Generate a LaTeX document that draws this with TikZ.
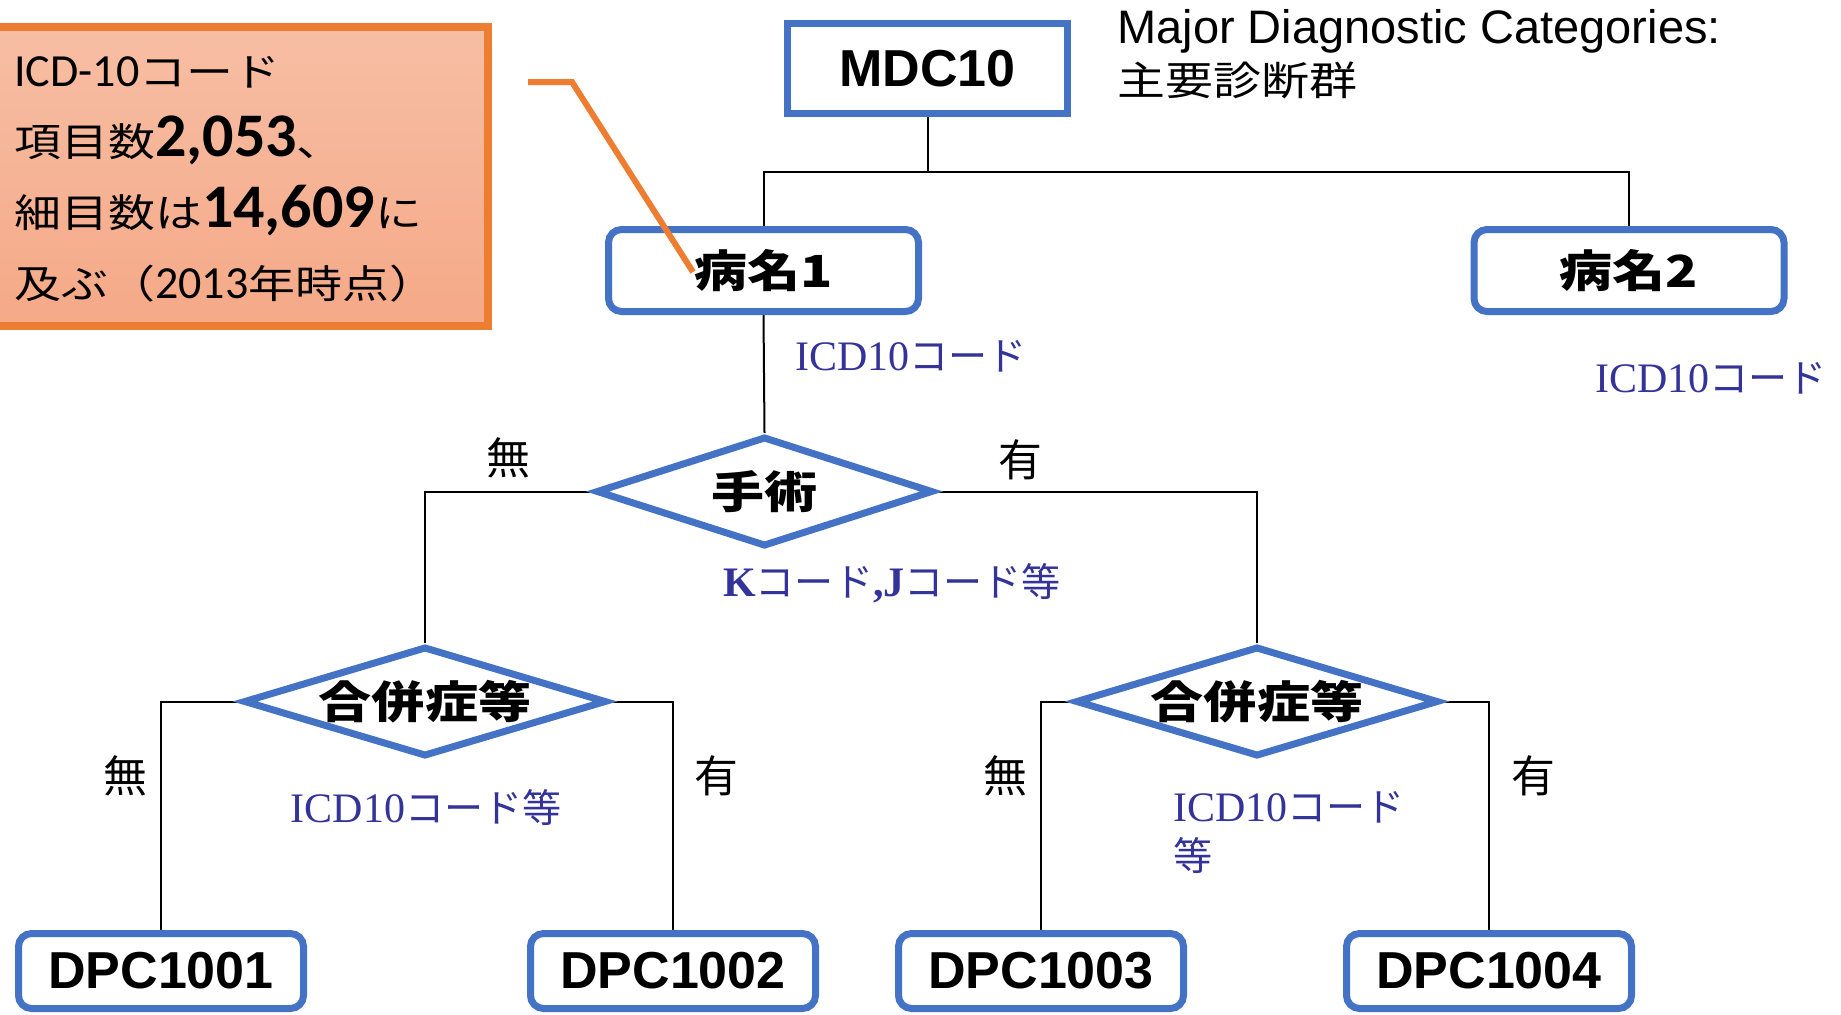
\documentclass[tikz,border=0pt]{standalone}
\usepackage{fontspec}
\setmainfont{Liberation Sans}
\newfontfamily\jpfont[Scale=0.93]{Noto Sans CJK JP}
\newfontfamily\jpwide[FakeStretch=1.2,Scale=0.85]{Noto Sans CJK JP}
\newfontfamily\calfont{Carlito}
\newfontfamily\timesfont{Liberation Serif}
\usetikzlibrary{shapes.geometric,backgrounds}

\definecolor{boxblue}{HTML}{4472C4}
\definecolor{codeblue}{HTML}{333399}
\definecolor{noteorange}{HTML}{ED7D31}
\definecolor{notetop}{HTML}{F7BEA4}
\definecolor{notebottom}{HTML}{F5A987}

\begin{document}
\begin{tikzpicture}[x=0.5pt, y=-0.5pt,
    sqbox/.style={draw=boxblue, line width=3.5pt, fill=white, inner sep=0pt,
        minimum width=140pt, minimum height=45pt,
        font=\jpwide\bfseries\fontsize{26}{28}\selectfont},
    rbox/.style={sqbox, rounded corners=6.5pt, minimum width=155pt, minimum height=41pt},
    dpcbox/.style={rbox, minimum width=142.5pt, minimum height=37.5pt},
    latin/.style={font=\bfseries\fontsize{26}{28}\selectfont},
    branch/.style={diamond, aspect=3.3, draw=boxblue, line width=3.5pt, fill=white,
        inner sep=0pt, minimum width=181.5pt, minimum height=55pt,
        font=\jpwide\bfseries\fontsize{26}{28}\selectfont},
    wire/.style={draw=black, line width=1pt},
    codelabel/.style={text=codeblue, inner sep=0pt, font=\timesfont\fontsize{21}{24.5}\selectfont},
    yesno/.style={inner sep=0pt, font=\jpfont\fontsize{23.6}{26}\selectfont},
]
\useasboundingbox (0,0) rectangle (1841,1014);

% callout
\path[draw=noteorange, line width=4pt, top color=notetop, bottom color=notebottom]
    (-20,27) rectangle (488,326);
\node[anchor=base west, inner sep=0pt, align=left, font=\calfont\fontsize{23}{35.3}\selectfont] (note) at (14,298)
    {ICD-10{\jpwide コード}\\
     {\jpwide 項目数}{\bfseries\fontsize{31}{35.3}\selectfont 2,053}{\jpwide 、}\\
     {\jpwide 細目数は}{\bfseries\fontsize{31}{35.3}\selectfont 14,609}{\jpwide に}\\
     {\jpwide 及ぶ（}2013{\jpwide 年時点）}};

% tree
\node[sqbox, latin] (mdc) at (927.5,68.5) {MDC10};
\node[anchor=base west, inner sep=0pt, font=\fontsize{23.5}{26}\selectfont] (mdcen) at (1117,43) {Major Diagnostic Categories:};
\node[anchor=base west, inner sep=0pt, font=\jpwide\fontsize{23.5}{26}\selectfont] (mdcja) at (1117,95) {主要診断群};

\node[rbox] (byo1) at (763.5,270.5) {病名1};
\node[rbox] (byo2) at (1629,270.5) {病名2};
\node[branch, minimum width=168.5pt] (shujutsu) at (764.5,491.5) {手術};
\node[branch] (gappei1) at (425,701.5) {合併症等};
\node[branch] (gappei2) at (1257,701.5) {合併症等};
\foreach \i/\x in {1/161, 2/673, 3/1041, 4/1489}
    \node[dpcbox, latin] (dpc\i) at (\x,971) {DPC100\i};

\begin{scope}[on background layer]
\coordinate (bus) at (927.5,172);
\draw[wire] (mdc.south) -- (bus) -| (byo1.north);
\draw[wire] (bus) -| (byo2.north);
\draw[wire] (byo1.south) -- (shujutsu.north);
\draw[wire] (shujutsu.west) -| (gappei1.north);
\draw[wire] (shujutsu.east) -| (gappei2.north);
\draw[wire] (gappei1.west) -| (dpc1.north);
\draw[wire] (gappei1.east) -| (dpc2.north);
\draw[wire] (gappei2.west) -| (dpc3.north);
\draw[wire] (gappei2.east) -| (dpc4.north);
\end{scope}

% codes
\node[codelabel, anchor=west] (code1) at (795,356) {ICD10{\jpfont コード}};
\node[codelabel, anchor=west] (code2) at (1595,378) {ICD10{\jpfont コード}};
\node[codelabel] (kjcode) at (892,583) {{\bfseries K}{\jpfont コード}{\bfseries ,J}{\jpfont コード等}};
\node[codelabel] (code3) at (426,808) {ICD10{\jpfont コード等}};
\node[codelabel, anchor=west, align=left] (code4) at (1173,832) {ICD10{\jpfont コード}\\{\jpfont 等}};

% yes / no
\node[yesno] (nashi1) at (508,458) {無};
\node[yesno] (ari1) at (1020,460) {有};
\node[yesno] (nashi2) at (125,776) {無};
\node[yesno] (ari2) at (716,776) {有};
\node[yesno] (nashi3) at (1005,776) {無};
\node[yesno] (ari3) at (1533,776) {有};

% pointer from the callout
\coordinate (noteend) at (528,82);
\coordinate (notetip) at (693,272);
\draw[noteorange, line width=3pt] (noteend) -- ++(44,0) -- (notetip);
\end{tikzpicture}
\end{document}
